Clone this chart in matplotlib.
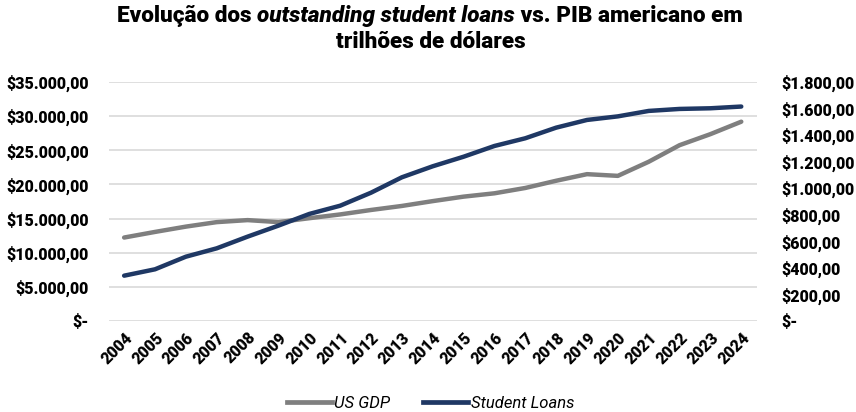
import matplotlib
matplotlib.use("Agg")
import matplotlib.pyplot as plt
from matplotlib.ticker import FuncFormatter

plt.rcParams["font.family"] = ["Roboto", "DejaVu Sans"]

years = list(range(2004, 2025))
# US GDP, billions of dollars (left axis)
us_gdp = [12217, 13039, 13816, 14474, 14770, 14478, 15049, 15600, 16254, 16843,
          17551, 18206, 18695, 19477, 20533, 21500, 21250, 23316, 25744, 27361, 29184]
# outstanding student loans, billions of dollars (right axis)
student_loans = [341, 389, 484, 547, 635, 718, 806, 868, 966, 1082,
                 1165, 1237, 1318, 1376, 1456, 1514, 1541, 1582, 1597, 1602, 1615]

gdp_color = "#7f7f7f"
loans_color = "#1f3864"
heavy = 900


def brl_money(v, decimals=2):
    if abs(v) < 1e-9:
        return "$-"
    s = f"{v:,.{decimals}f}"
    s = s.replace(",", "X").replace(".", ",").replace("X", ".")
    return "$" + s


fig = plt.figure(figsize=(8.56, 4.12), dpi=100)
ax = fig.add_axes([0.127, 0.221, 0.757, 0.580])
ax2 = ax.twinx()

ax.plot(years, us_gdp, color=gdp_color, lw=3.2, solid_capstyle="round", zorder=3)
ax2.plot(years, student_loans, color=loans_color, lw=3.2, solid_capstyle="round", zorder=3)

ax.set_xlim(2003.5, 2024.5)
ax.set_ylim(0, 35000)
ax2.set_ylim(0, 1800)
ax.set_yticks(range(0, 35001, 5000))
ax2.set_yticks(range(0, 1801, 200))
ax.yaxis.set_major_formatter(FuncFormatter(lambda v, p: brl_money(v)))
ax2.yaxis.set_major_formatter(FuncFormatter(lambda v, p: brl_money(v)))

ax.set_xticks(years)
ax.set_xticklabels([str(y) for y in years], rotation=45, ha="right",
                   rotation_mode="anchor", fontweight=heavy, fontsize=11.5)

ax.grid(axis="y", color="#d9d9d9", lw=1.2, zorder=0)
ax.set_axisbelow(True)
for a in (ax, ax2):
    for s in a.spines.values():
        s.set_visible(False)
    a.tick_params(length=0)
for lab in ax.get_yticklabels():
    lab.set_fontweight(heavy)
    lab.set_fontsize(11.5)
for lab in ax2.get_yticklabels():
    lab.set_fontweight(heavy)
    lab.set_fontsize(11.5)
ax.tick_params(axis="y", pad=14.5)
ax.tick_params(axis="x", pad=6)
ax2.tick_params(axis="y", pad=18)

# title with an italic piece in the middle of line one
fig.canvas.draw()
renderer = fig.canvas.get_renderer()
parts = [("Evolução dos ", "normal"), ("outstanding student loans", "italic"),
         (" vs. PIB americano em", "normal")]
texts = []
for s, style in parts:
    t = fig.text(0, 0.962, s, fontsize=16.2, fontweight=heavy, style=style,
                 ha="left", va="center")
    texts.append(t)
widths = [t.get_window_extent(renderer).width for t in texts]
total = sum(widths)
x0 = 0.5 * 856 - total / 2 + 2
for t, w in zip(texts, widths):
    t.set_x(x0 / 856)
    x0 += w
fig.text(0.503, 0.898, "trilhões de dólares", fontsize=16.2, fontweight=heavy,
         ha="center", va="center")

handles = [plt.Line2D([0], [0], color=gdp_color, lw=3.4),
           plt.Line2D([0], [0], color=loans_color, lw=3.4)]
fig.legend(handles, ["US GDP", "Student Loans"], loc="center", bbox_to_anchor=(0.503, 0.02),
           ncol=2, frameon=False, handlelength=2.7, handletextpad=0.15, columnspacing=2.0,
           prop={"style": "italic", "size": 12})

fig.savefig("out.png", dpi=100, facecolor="white")
